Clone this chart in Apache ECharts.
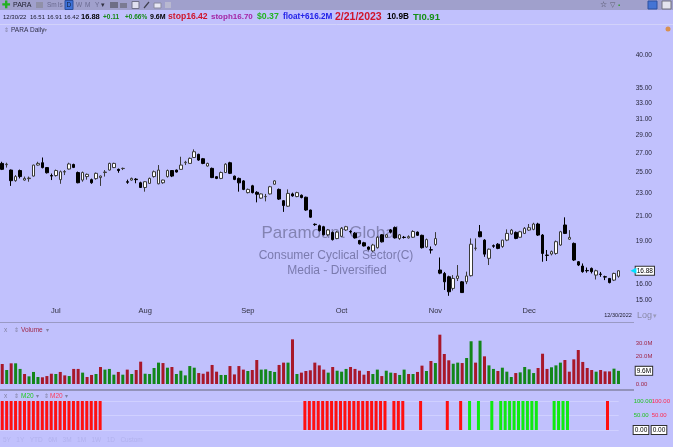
<!DOCTYPE html>
<html><head><meta charset="utf-8">
<script src="https://cdn.jsdelivr.net/npm/echarts@6/dist/echarts.min.js"></script>
<style>html,body{margin:0;padding:0;background:#c1c1fd;}#c{width:673px;height:447px;}</style>
</head><body><div id="c"></div>
<script>
// ---------- DATA ----------
const monthTradingDays = [
  ['2022-06', [14,15,16,17,21,22,23,24,27,28,29,30]],
  ['2022-07', [1,5,6,7,8,11,12,13,14,15,18,19,20,21,22,25,26,27,28,29]],
  ['2022-08', [1,2,3,4,5,8,9,10,11,12,15,16,17,18,19,22,23,24,25,26,29,30,31]],
  ['2022-09', [1,2,6,7,8,9,12,13,14,15,16,19,20,21,22,23,26,27,28,29,30]],
  ['2022-10', [3,4,5,6,7,10,11,12,13,14,17,18,19,20,21,24,25,26,27,28,31]],
  ['2022-11', [1,2,3,4,7,8,9,10,11,14,15,16,17,18,21,22,23,25,28,29,30]],
  ['2022-12', [1,2,5,6,7,8,9,12,13,14,15,16,19,20,21,22,23,27,28,29,30]]
];
const monthNames = ['Jan','Feb','Mar','Apr','May','Jun','Jul','Aug','Sep','Oct','Nov','Dec'];

const opens = [25.93,25.80,25.25,24.20,25.20,24.26,24.40,24.65,25.76,26.00,25.50,24.70,24.70,24.30,25.05,25.35,25.82,25.00,24.26,24.60,
24.30,24.40,24.50,25.00,25.25,25.50,25.32,25.40,24.10,24.26,24.35,24.00,23.55,23.94,24.60,23.90,24.00,24.60,25.20,25.25,
25.32,26.00,25.93,26.55,26.89,26.42,25.66,25.42,24.59,24.42,25.00,26.00,24.64,24.42,24.18,23.07,23.71,23.10,22.57,22.70,
22.95,23.86,23.37,22.34,21.85,22.95,22.71,22.83,22.65,21.52,20.33,20.21,20.13,19.49,19.67,19.20,19.37,19.87,19.75,19.62,
19.05,18.88,18.56,18.27,18.51,19.49,19.30,19.87,20.06,19.20,19.30,19.25,19.30,19.70,19.45,18.56,18.36,18.75,16.93,16.70,
16.48,15.73,16.37,16.15,16.15,16.55,18.46,19.73,19.08,17.74,18.66,18.77,18.60,19.08,19.55,19.68,19.30,19.60,19.86,19.92,
20.35,19.47,17.97,18.05,18.09,18.71,20.27,19.15,18.83,17.50,17.20,16.90,17.04,16.59,16.66,16.48,16.37,16.26,16.51];
const highs = [26.10,26.00,25.30,24.75,25.30,24.60,24.60,25.80,26.10,26.55,25.55,24.90,25.30,25.20,25.25,26.00,25.90,25.10,25.10,24.90,
24.40,25.00,24.70,25.25,26.00,26.00,25.40,25.50,24.30,24.50,24.45,24.10,24.15,24.50,25.20,25.76,24.30,25.30,25.25,25.30,
26.63,26.20,26.55,27.43,26.95,26.50,26.00,25.50,24.65,25.10,25.95,26.10,24.70,24.50,24.25,23.45,23.80,23.20,23.00,22.95,
23.70,24.25,23.45,22.40,23.37,23.07,23.15,22.90,22.70,21.55,20.40,20.30,20.20,19.95,19.75,19.80,20.10,20.20,19.85,19.70,
19.10,18.95,18.60,18.80,19.40,19.55,19.55,19.95,20.15,19.55,19.40,19.45,19.85,19.75,19.50,19.20,18.60,19.70,17.80,16.80,
16.55,16.59,17.27,16.20,16.82,19.21,19.21,20.27,19.15,18.45,18.75,18.85,19.10,19.92,19.95,19.75,19.80,20.10,20.35,20.45,
20.45,19.55,18.34,18.30,19.05,19.80,20.90,19.86,18.90,17.55,17.38,17.10,17.10,16.95,16.80,16.55,16.40,16.75,16.91];
const lows = [25.25,25.50,23.70,24.10,24.42,24.20,24.10,24.60,25.70,25.42,24.90,24.26,24.60,23.90,24.75,25.30,25.45,23.95,24.10,24.30,
23.90,24.30,23.70,24.60,25.20,25.45,24.98,25.25,23.90,24.20,23.95,23.50,23.16,23.90,24.50,23.85,23.90,24.50,24.55,25.00,
25.30,25.76,25.90,26.50,26.20,25.85,25.60,24.45,24.35,24.35,24.95,24.85,24.25,23.16,23.30,23.00,23.00,22.19,22.50,22.28,
22.90,23.80,22.40,21.36,21.80,22.70,22.65,22.55,21.45,20.85,20.20,19.75,19.45,19.40,19.05,19.15,19.30,19.80,19.60,19.20,
18.75,18.60,18.30,18.20,18.45,18.90,19.25,19.60,19.20,19.10,19.20,19.20,19.25,19.40,18.45,18.50,18.08,18.65,16.65,15.63,
15.27,15.60,16.20,15.45,16.00,16.50,18.30,19.30,17.85,17.27,18.50,18.40,18.50,19.00,19.50,19.15,19.25,19.55,19.80,19.85,
19.40,17.50,17.55,17.95,18.00,18.65,19.55,19.10,17.55,17.20,16.75,16.75,16.70,16.30,16.48,16.26,16.05,16.20,16.42];
const closes = [25.32,25.85,24.20,24.60,24.60,24.42,24.45,25.76,25.93,25.50,24.98,24.65,25.20,25.08,25.10,25.87,25.52,24.00,25.00,24.82,
24.00,24.92,24.65,25.05,25.93,25.93,25.20,25.42,24.05,24.42,24.30,23.55,24.10,24.42,25.08,25.25,24.26,25.20,24.65,25.05,
25.76,26.05,26.46,27.17,26.28,25.93,25.93,24.50,24.42,25.00,25.85,24.92,24.32,23.99,23.37,23.37,23.07,22.92,22.95,22.72,
23.62,24.18,22.48,21.91,23.00,22.77,23.07,22.62,21.52,20.91,20.30,19.82,19.49,19.87,19.12,19.70,20.00,20.13,19.72,19.25,
18.80,18.64,18.39,18.71,19.30,18.95,19.49,19.70,19.25,19.49,19.28,19.35,19.75,19.45,18.51,19.12,18.34,19.20,16.72,16.15,
15.52,16.37,16.53,15.47,16.53,18.77,18.48,19.34,18.04,18.40,18.62,18.46,19.08,19.60,19.86,19.21,19.73,20.00,20.05,20.35,
19.47,18.09,17.95,18.22,18.96,19.73,19.60,19.29,17.62,17.27,16.82,16.88,16.82,16.88,16.64,16.46,16.10,16.70,16.88];
// volume in millions
const volumes = [14.6,10.2,15.1,15.1,11.0,7.3,5.6,8.8,5.1,4.9,5.8,7.5,7.3,8.8,6.3,5.8,11.0,11.0,8.3,5.1,
6.6,7.3,12.4,10.5,11.0,6.8,8.8,6.8,10.5,7.3,10.2,16.3,7.5,7.3,11.7,15.6,15.3,11.9,12.4,7.3,
9.7,6.3,13.1,11.9,8.0,7.5,9.0,13.9,9.0,6.6,6.6,13.1,7.0,13.1,10.5,9.5,10.2,17.5,10.5,10.7,
9.5,8.8,13.9,15.6,15.6,32.6,7.3,8.3,9.5,10.0,15.6,13.6,10.5,8.3,12.4,9.7,9.0,11.0,12.4,11.0,
9.7,6.8,9.5,7.3,10.5,5.8,9.7,8.3,8.0,6.6,10.5,7.3,7.3,8.8,13.4,9.5,16.8,15.3,36.0,21.9,
17.3,14.8,15.6,15.3,19.0,31.2,15.6,31.6,20.2,13.6,11.0,9.5,11.9,9.0,5.1,8.0,8.5,12.4,10.7,8.0,
11.7,22.1,11.0,12.2,13.6,15.6,17.5,9.0,18.0,24.8,16.1,11.7,10.2,9.0,10.2,9.2,9.2,11.2,9.6];
// u = green (up), d = red (down) volume bars, ten per group
const volumeDirection = [
  'duduuduuud', 'ddudduddud', 'duduuududu', 'dduuuududu', 'uuuudddddu',
  'uddddudduu', 'uuddududdd', 'ddduduuudd', 'ddduuduudu', 'ududdududd',
  'duuduududu', 'uduuuduuuu', 'ddduuudddd', 'ddduddduu'
].join('').split('');
const m20GreenIdx = [105,107,110,112,113,114,115,116,117,118,119,120,124,125,126,127];
const m20RedIdx = [0,1,2,3,4,5,6,7,8,9,10,11,12,13,14,15,16,17,18,19,20,21,22,
  68,69,70,71,72,73,74,75,76,77,78,79,80,81,82,83,84,85,86,88,89,90,94,100,103,136];
const priceTicks = [15,16,19,21,23,25,27,29,31,33,35,40];
const volumeTicks = [0,20,30];

// ---------- BUILD ----------
const dates = [];
monthTradingDays.forEach(([m, days]) => days.forEach(d => dates.push(m + '-' + String(d).padStart(2,'0'))));
const monthStart = new Set();
dates.forEach((d,i) => { if (i > 0 && d.slice(0,7) !== dates[i-1].slice(0,7)) monthStart.add(i); });
const lastClose = closes[closes.length-1];
const lastVol = volumes[volumes.length-1];
const candleData = opens.map((o,i) => [o, closes[i], lows[i], highs[i]]);
const VOL_G = '#13861a', VOL_R = '#a8182a';
const volData = volumes.map((v,i) => ({value: v, itemStyle: {color: volumeDirection[i] === 'u' ? VOL_G : VOL_R}}));
const gSet = new Set(m20GreenIdx), rSet = new Set(m20RedIdx);
const m20G = dates.map((d,i) => gSet.has(i) ? 100 : '-');
const m20R = dates.map((d,i) => rSet.has(i) ? 100 : '-');

const FF = "'Liberation Sans', Arial, sans-serif";
function T(text, x, y, size, fill, bold, align, z) {
  return {type:'text', x:x, y:y, z: z == null ? 10 : z, silent:true,
    style:{text:text, fill:fill, font:(bold?'bold ':'') + size + 'px ' + FF, align: align || 'left', verticalAlign:'middle'}};
}
const GL = -2, GW = 622.7;
const boxRich = {box:{backgroundColor:'#ffffff', borderColor:'#303030', borderWidth:1, padding:[1,1,0,1], color:'#000', fontSize:6.5, fontFamily:FF}};
function hiddenX(gi) {
  return {type:'category', gridIndex:gi, data:dates, boundaryGap:true, axisLine:{show:false}, axisTick:{show:false}, axisLabel:{show:false}, splitLine:{show:false}};
}

const graphics = [
  {type:'rect', shape:{x:0,y:0,width:673,height:10}, style:{fill:'#a0a0cc'}, z:1},
  {type:'line', shape:{x1:0,y1:24.5,x2:673,y2:24.5}, style:{stroke:'#d2d2fa', lineWidth:1}, z:1},
  {type:'line', shape:{x1:0,y1:322.5,x2:634,y2:322.5}, style:{stroke:'#9a9ac4', lineWidth:1}, z:1},
  {type:'line', shape:{x1:0,y1:390,x2:634,y2:390}, style:{stroke:'#9393bb', lineWidth:2}, z:1},
  // toolbar
  T('\u271A', 2, 5, 10, '#22b022', true),
  T('PARA', 13, 5, 7, '#202030'),
  {type:'rect', shape:{x:36,y:2,width:7,height:6}, style:{fill:'#9090a8'}, z:5},
  T('Sm', 47, 5, 6.5, '#6a6a90'), T('ls', 58, 5, 6.5, '#6a6a90'),
  {type:'rect', shape:{x:65,y:0.5,width:8,height:9}, style:{fill:'#3f72d8', stroke:'#2a4ea0'}, z:5},
  T('D', 66.5, 5, 6.5, '#102040'), T('W', 76, 5, 6.5, '#6a6a90'), T('M', 85, 5, 6.5, '#6a6a90'), T('Y', 95, 5, 6.5, '#6a6a90'), T('\u25BE', 101, 5, 7, '#303040'),
  {type:'rect', shape:{x:110,y:2,width:8,height:6}, style:{fill:'#6e6e86'}, z:5},
  {type:'rect', shape:{x:120,y:3,width:7,height:5}, style:{fill:'#7a7a92'}, z:5},
  {type:'rect', shape:{x:132,y:1.5,width:7,height:7}, style:{fill:'#e0e0f0', stroke:'#707088'}, z:5},
  {type:'line', shape:{x1:144,y1:8,x2:149,y2:2}, style:{stroke:'#404050', lineWidth:1.2}, z:5},
  {type:'rect', shape:{x:154,y:3,width:7,height:5}, style:{fill:'#e8e8f4', stroke:'#8a8aa0'}, z:5},
  {type:'rect', shape:{x:165,y:2,width:6,height:6}, style:{fill:'#b8b8d0'}, z:5},
  T('\u2606', 600, 5, 8, '#404050'), T('\u25BD', 610, 5, 7, '#606070'), T('\u25AA', 618, 5, 6, '#3a9a3a'),
  {type:'rect', shape:{x:648,y:1,width:9,height:8}, style:{fill:'#4474d4', stroke:'#2c50a0'}, z:5},
  {type:'rect', shape:{x:662,y:1,width:9,height:8}, style:{fill:'#e4e4ee', stroke:'#707080'}, z:5},
  // info row
  T('12/30/22', 3, 17, 6, '#1a1a2a'), T('16.51', 30, 17, 6, '#1a1a2a'), T('16.91', 47, 17, 6, '#1a1a2a'), T('16.42', 64, 17, 6, '#1a1a2a'),
  T('16.88', 81, 17, 7.5, '#000000', true),
  T('+0.11', 103, 17, 6.5, '#178a17', true), T('+0.66%', 125, 17, 6.5, '#178a17', true),
  T('9.6M', 150, 17, 7, '#000000', true),
  T('stop16.42', 168, 17, 8.6, '#d0142a', true),
  T('stoph16.70', 211, 17, 8, '#a424a4', true),
  T('$0.37', 257, 17, 8.7, '#22b422', true),
  T('float+616.2M', 283, 17, 8.2, '#2222e8', true),
  T('2/21/2023', 335, 17, 10.5, '#d0142a', true),
  T('10.9B', 387, 17, 8.2, '#000000', true),
  T('TI0.91', 413, 17, 9.5, '#159015', true),
  T('\u21D5', 4, 30, 6, '#8080a0'), T('PARA Daily', 11, 30, 6.5, '#303048'), T('\u25BE', 44, 30, 6, '#8080a0'),
  {type:'circle', shape:{cx:668, cy:29, r:2.5}, style:{fill:'#d89050'}, z:5},
  // watermark
  T('Paramount Global', 330, 233, 17, 'rgba(120,120,165,0.85)', false, 'center', 0),
  T('Consumer Cyclical Sector(C)', 336, 256, 12, 'rgba(110,110,160,0.85)', false, 'center', 0),
  T('Media - Diversified', 337, 271, 12, 'rgba(110,110,160,0.85)', false, 'center', 0),
  // axis extras
  T('12/30/2022', 618, 315, 5.5, '#202030', false, 'center'),
  T('Log', 637, 316, 9, '#8a8aa8'), T('\u25BE', 653, 316, 7, '#9a9ab8'),
  // panel titles
  T('x', 4, 330, 6.5, '#8080a0'), T('\u21D5', 14, 330, 6, '#8080a0'), T('Volume', 21, 330, 6.5, '#a02848'), T('\u25BE', 46, 330, 6, '#8080a0'),
  T('x', 4, 396, 6.5, '#8080a0'), T('\u21D5', 14, 396, 6, '#8080a0'), T('M20', 21, 396, 6.5, '#22cc22'), T('\u25BE', 36, 396, 6, '#8080a0'),
  T('\u21D5', 44, 396, 6, '#8080a0'), T('M20', 50, 396, 6.5, '#ff3a5a'), T('\u25BE', 65, 396, 6, '#8080a0'),
  T('5Y   1Y   YTD   6M   3M   1M   1W   1D   Custom', 3, 440, 6.5, '#b2b2ee')
];

const chart = echarts.init(document.getElementById('c'), null, {renderer:'canvas'});
chart.setOption({
  backgroundColor: '#c1c1fd',
  animation: false,
  grid: [
    {left: GL, width: GW, top: 35, height: 270},
    {left: GL, width: GW, top: 334, height: 50},
    {left: GL, width: GW, top: 401, height: 29}
  ],
  xAxis: [
    {type:'category', gridIndex:0, data:dates, boundaryGap:true, axisLine:{show:false}, axisTick:{show:false}, splitLine:{show:false},
      axisLabel:{show:true, interval:(idx) => monthStart.has(idx), margin:2, fontSize:7.5, color:'#303040', fontFamily:FF,
        formatter:(v) => monthNames[parseInt(v.slice(5,7),10)-1]}},
    hiddenX(1), hiddenX(2)
  ],
  yAxis: [
    {type:'log', gridIndex:0, position:'right', min:14.72, max:43.33, logBase:10, axisLine:{show:false}, axisTick:{show:false}, splitLine:{show:false},
      axisLabel:{customValues: priceTicks.concat([lastClose]), margin:15, fontSize:6.5, color:'#26263a', fontFamily:FF, rich: boxRich,
        formatter:(v) => Math.abs(v - lastClose) < 1e-6 ? '{box|' + v.toFixed(2) + '}' : v.toFixed(2)}},
    {type:'value', gridIndex:1, position:'right', min:0, max:36.5, axisLine:{show:false}, axisTick:{show:false}, splitLine:{show:false},
      axisLabel:{customValues: volumeTicks.concat([lastVol]), margin:15, fontSize:6, color:'#a02848', fontFamily:FF, rich: boxRich,
        formatter:(v) => v === 0 ? '0.00' : (Math.abs(v - lastVol) < 1e-6 ? '{box|' + v.toFixed(1) + 'M}' : v.toFixed(1) + 'M')}},
    {type:'value', gridIndex:2, position:'right', min:0, max:100, interval:50, axisLine:{show:false}, axisTick:{show:false},
      splitLine:{show:true, lineStyle:{color:'#d0d0ff', width:1}},
      axisLabel:{margin:15, fontSize:6, color:'#22c422', fontFamily:FF, rich: boxRich,
        formatter:(v) => v === 0 ? '{box|0.00}' : v.toFixed(2)}},
    {type:'value', gridIndex:2, position:'right', offset:18, min:0, max:100, interval:50, axisLine:{show:false}, axisTick:{show:false}, splitLine:{show:false},
      axisLabel:{margin:15, fontSize:6, color:'#ff2a50', fontFamily:FF, rich: boxRich,
        formatter:(v) => v === 0 ? '{box|0.00}' : v.toFixed(2)}}
  ],
  series: [
    {type:'candlestick', xAxisIndex:0, yAxisIndex:0, data:candleData, barWidth:3, z:5,
      itemStyle:{color:'#ffffff', color0:'#000000', borderColor:'#3a3a3a', borderColor0:'#000000', borderColorDoji:'#000000', borderWidth:1},
      markPoint:{silent:true, symbol:'triangle', symbolSize:[6,6], symbolRotate:90, symbolOffset:[15,0],
        itemStyle:{color:'#00e0ff'}, label:{show:false},
        data:[{coord:[dates.length-1, lastClose]}]}},
    {type:'bar', xAxisIndex:1, yAxisIndex:1, data:volData, barWidth:3},
    {type:'bar', xAxisIndex:2, yAxisIndex:2, data:m20G, barWidth:3, itemStyle:{color:'#10ea10'}},
    {type:'bar', xAxisIndex:2, yAxisIndex:2, data:m20R, barWidth:3, barGap:'-100%', itemStyle:{color:'#ff1010'}}
  ],
  graphic: graphics
});
</script>
</body></html>
